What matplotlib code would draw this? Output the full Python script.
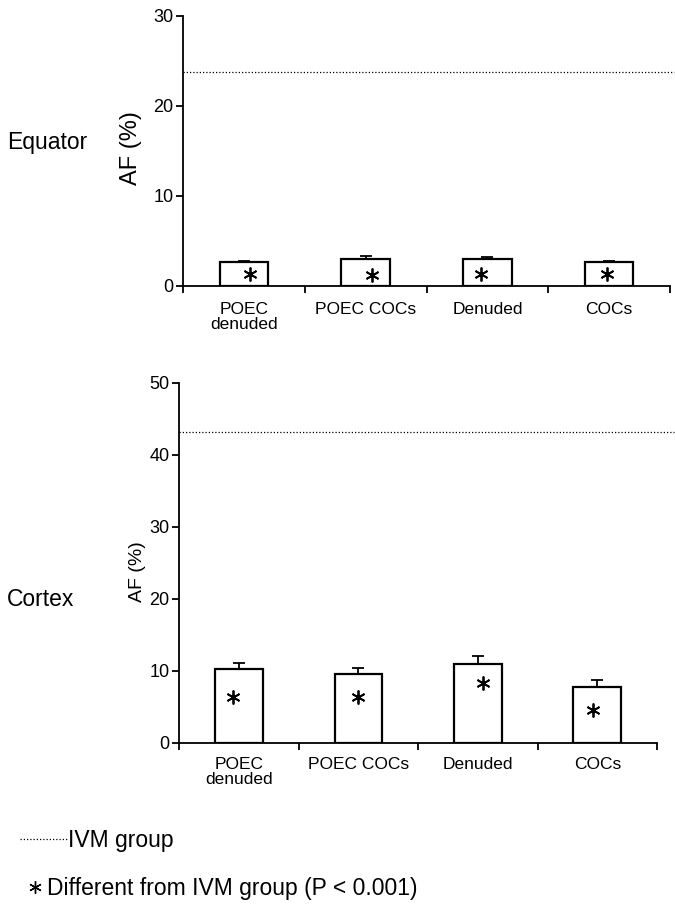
import matplotlib
matplotlib.use('Agg')
import matplotlib.pyplot as plt
import numpy as np
from matplotlib.lines import Line2D

plt.rcParams['font.family'] = ['Liberation Sans', 'DejaVu Sans']

# datos
groups = ['POEC\ndenuded', 'POEC COCs', 'Denuded', 'COCs']
eq_af = [2.6, 2.95, 2.95, 2.6]
eq_err = [0.15, 0.35, 0.2, 0.15]
eq_star = [1.25, 1.2, 1.25, 1.25]
eq_ivm = 23.75
cx_af = [10.2, 9.55, 10.9, 7.75]
cx_err = [0.9, 0.85, 1.15, 0.9]
cx_star = [6.3, 6.3, 8.3, 4.6]
cx_ivm = 43.15

W, H = 675, 906
fig = plt.figure(facecolor='white', figsize=(W / 100, H / 100), dpi=100)

def panel(rect, vals, errs, stars, ivm, ymax, ystep, star_dx, lab_pad):
    ax = fig.add_axes(rect)
    cols = np.arange(len(vals)) + 0.5
    ax.bar(cols, vals, 0.4, color='white', edgecolor='black', linewidth=1.6, zorder=3)
    ax.errorbar(cols, vals, yerr=[np.zeros(len(errs)), errs], fmt='none',
                ecolor='black', elinewidth=1.3, capsize=4.5, capthick=1.3, zorder=2)
    ax.plot(cols + np.array(star_dx), stars, linestyle='none', marker=(6, 2, 0),
            markersize=10, markeredgewidth=1.3, color='black', zorder=4)
    ax.axhline(ivm, xmin=0, xmax=(W - rect[0] * W) / (rect[2] * W) - 0.002,
               color='black', linestyle=(0, (1, 1.6)), linewidth=0.9, clip_on=False)
    ax.set_xlim(0, len(vals))
    ax.set_ylim(0, ymax)
    for s in ['top', 'right']:
        ax.spines[s].set_visible(False)
    for s in ['left', 'bottom']:
        ax.spines[s].set_linewidth(1.3)
    ax.set_yticks(np.arange(0, ymax + 1, ystep))
    ax.tick_params(axis='y', direction='out', length=5, width=1.3, labelsize=13, pad=2)
    ax.set_xticks(cols)
    ax.set_xticklabels(groups, fontsize=12.5, linespacing=0.95)
    ax.set_xticks(np.arange(len(vals) + 1), minor=True)
    ax.tick_params(axis='x', which='major', length=0, pad=lab_pad)
    ax.tick_params(axis='x', which='minor', direction='out', length=5, width=1.3)
    return ax

ax1 = panel([183 / W, 1 - 285.5 / H, 487 / W, 269.5 / H], eq_af, eq_err, eq_star,
            eq_ivm, 30, 10, [0.05, 0.05, -0.05, -0.02], 12)
ax2 = panel([179.3 / W, 1 - 742.7 / H, 477.7 / W, 360 / H], cx_af, cx_err, cx_star,
            cx_ivm, 50, 10, [-0.05, 0.0, 0.04, -0.04], 10.5)

# etiquetas
fig.text(131 / W, 1 - 148 / H, 'AF (%)', rotation=90, ha='center', va='center', fontsize=17)
fig.text(137.5 / W, 1 - 572 / H, 'AF (%)', rotation=90, ha='center', va='center', fontsize=14)
fig.text(7 / W, 1 - 142 / H, 'Equator', ha='left', va='center', fontsize=16.5)
fig.text(7 / W, 1 - 599 / H, 'Cortex', ha='left', va='center', fontsize=16.5)

# leyenda
fig.add_artist(Line2D([20 / W, 67 / W], [1 - 839 / H, 1 - 839 / H], transform=fig.transFigure,
                      color='black', linestyle=(0, (1, 1.6)), linewidth=0.9))
fig.text(68 / W, 1 - 841 / H, 'IVM group', ha='left', va='center', fontsize=16.5)
fig.add_artist(Line2D([35 / W], [1 - 887 / H], transform=fig.transFigure, marker=(6, 2, 0),
                      markersize=9, markeredgewidth=1.0, color='black', linestyle='none'))
fig.text(47 / W, 1 - 888 / H, 'Different from IVM group (P < 0.001)', ha='left',
         va='center', fontsize=16.5)

fig.savefig('out.png', dpi=100, facecolor='white')
